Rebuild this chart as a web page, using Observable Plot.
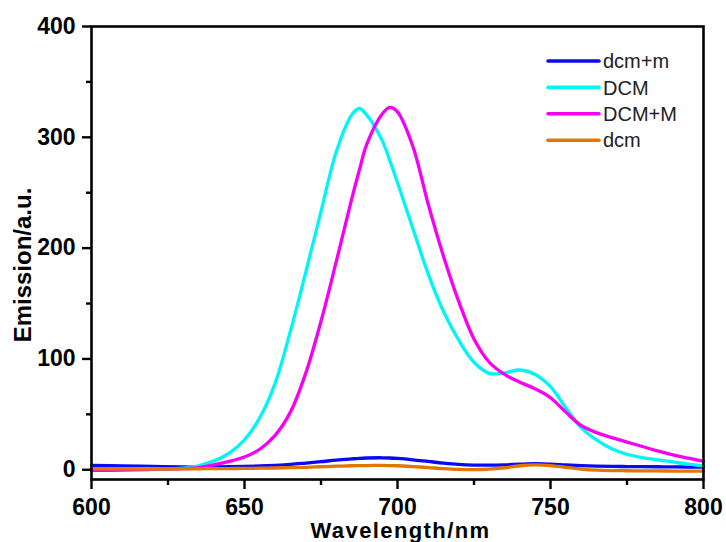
<!DOCTYPE html>
<html>
<head>
<meta charset="utf-8">
<script src="https://cdn.jsdelivr.net/npm/d3@7"></script>
<script src="https://cdn.jsdelivr.net/npm/@observablehq/plot@0.6"></script>
<style>
  html, body { margin: 0; padding: 0; background: #fff; }
</style>
</head>
<body>
<div id="chart"></div>
<script>
// Wavelength grid (nm)
const wavelengths = [600,610,620,630,635,640,645,650,655,660,665,670,675,680,685,687.5,690,695,697.5,700,705,710,715,720,725,730,735,740,745,750,755,760,765,770,775,780,785,790,795,800];

// Series values (emission, a.u.)
const dcm_m = [4,3.5,3,2.5,2.4,2.5,2.7,3,3.4,4,4.8,6,7.3,8.7,9.8,10.3,10.6,10.8,10.6,10.2,9,7.5,6,4.8,4.2,4.1,4.4,5,5.4,5,4.3,3.7,3.3,3,2.9,2.8,2.7,2.6,2.5,2.4];
const DCM = [1,1,1,1.5,3.5,8,15,27,47,78,125,178,233,287,320,326,320,297,279,259,218,177,143,117,97,87,87.5,90,86,75,56,38,27,19,14,11,9,7,5,3.5];
const DCM_M = [-0.6,-0.3,0.3,1,1.8,4.5,7.5,11.5,18.5,31,52,87,134,188,244,270,294,321,327,323,292,240,193,152,118,97,86,79,73,65,52,40,33.5,29,25,21,17,13.5,10.5,7.5];
const dcm = [1,0.8,0.6,0.8,0.9,1,1.1,1.2,1.4,1.6,1.9,2.2,2.7,3.2,3.6,3.7,3.8,3.9,3.8,3.6,2.9,2,1,0.3,0.1,0.6,1.8,3.6,4.4,3.8,2.2,0.6,-0.4,-0.8,-0.9,-1,-1.1,-1.2,-1.3,-1.3];

const seriesNames = ["dcm+m", "DCM", "DCM+M", "dcm"];
const seriesValues = [dcm_m, DCM, DCM_M, dcm];
const seriesColors = ["#0a0af5", "#00f5f5", "#f500f5", "#e07800"];

const xMajor = [600, 650, 700, 750, 800];
const xMinor = [625, 675, 725, 775];
const yMajor = [0, 100, 200, 300, 400];
const yMinor = [50, 150, 250, 350];

const xTitle = "Wavelength/nm";
const yTitle = "Emission/a.u.";

const rows = seriesNames.flatMap((s, k) =>
  wavelengths.map((w, i) => ({ s, w, v: seriesValues[k][i] }))
);

const font = "'Liberation Sans', Arial, Helvetica, sans-serif";
const W = 726, H = 542, mL = 91, mR = 23, mT = 26, mB = 63;
const plotW = W - mL - mR, plotH = H - mT - mB;

const chart = Plot.plot({
  width: W,
  height: H,
  marginLeft: mL,
  marginRight: mR,
  marginTop: mT,
  marginBottom: mB,
  style: { fontFamily: font, background: "white", color: "black" },
  x: { domain: [600, 800] },
  y: { domain: [-8.8, 400] },
  color: { domain: seriesNames, range: seriesColors },
  marks: [
    Plot.line(rows, { x: "w", y: "v", z: "s", stroke: "s", strokeWidth: 3.3, curve: "catmull-rom" }),
    Plot.frame({ stroke: "black", strokeWidth: 2.6 }),
    Plot.axisX({ ticks: xMajor, tickSize: 10, tickPadding: 9, fontSize: 23, fontWeight: "bold", strokeWidth: 2.4, label: null, tickFormat: d => String(d) }),
    Plot.tickX(xMinor, { x: d => d, insetTop: plotH, insetBottom: -6, stroke: "black", strokeWidth: 2.4 }),
    Plot.axisY({ ticks: yMajor, tickSize: 9, tickPadding: 7, fontSize: 23, fontWeight: "bold", strokeWidth: 2.4, label: null, tickFormat: d => String(d) }),
    Plot.tickY(yMinor, { y: d => d, insetLeft: -5, insetRight: plotW, stroke: "black", strokeWidth: 2.4 }),
    Plot.text([yTitle], { text: d => d, frameAnchor: "left", textAnchor: "middle", lineAnchor: "middle", dx: -68, dy: 12, rotate: -90, fontSize: 24, fontWeight: "bold", fill: "black" }),
    Plot.text([xTitle], { text: d => d, frameAnchor: "bottom", textAnchor: "middle", lineAnchor: "middle", dx: 3, dy: 51, fontSize: 22, fontWeight: "bold", fill: "black" })
  ]
});

// Legend inside the plot (top right)
const svg = d3.select(chart);
svg.selectAll("text").filter(function () { return this.textContent === xTitle; })
  .style("letter-spacing", "1.4px");
const lg = svg.append("g").attr("font-family", font).attr("font-size", 20).attr("text-anchor", "start");
seriesNames.forEach((name, i) => {
  const y = 61 + i * 26.4;
  lg.append("line")
    .attr("x1", 548).attr("x2", 599).attr("y1", y).attr("y2", y)
    .attr("stroke", seriesColors[i]).attr("stroke-width", 3.6).attr("stroke-linecap", "round");
  lg.append("text")
    .attr("x", 603).attr("y", y).attr("dy", "0.36em")
    .attr("text-anchor", "start")
    .attr("fill", "#222").text(name);
});

document.getElementById("chart").appendChild(chart);
</script>
</body>
</html>
